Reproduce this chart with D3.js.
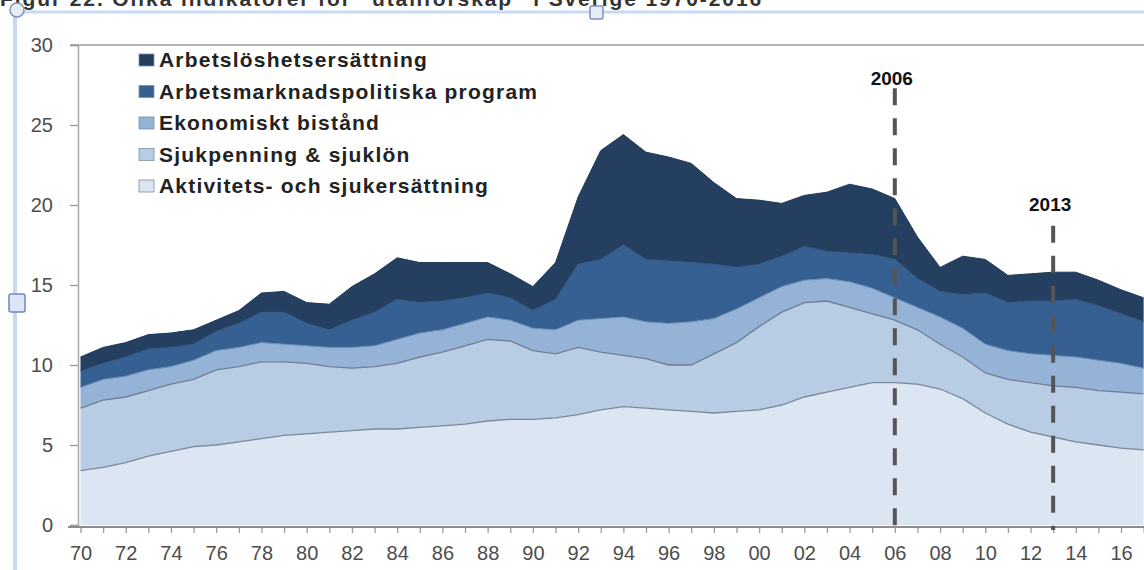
<!DOCTYPE html>
<html>
<head>
<meta charset="utf-8">
<script src="https://cdn.jsdelivr.net/npm/d3@7"></script>
<style>
  body { margin: 0; background: #fff; }
  svg { display: block; }
</style>
</head>
<body>
<div id="chart"></div>
<script>
// Years on the x axis (data runs a little past the last label)
const years = d3.range(1970, 2018);

// Andel av befolkningen, procent (stacked from bottom to top)
const aktivitets = [3.4,3.6,3.9,4.3,4.6,4.9,5.0,5.2,5.4,5.6,5.7,5.8,5.9,6.0,6.0,6.1,6.2,6.3,6.5,6.6,6.6,6.7,6.9,7.2,7.4,7.3,7.2,7.1,7.0,7.1,7.2,7.5,8.0,8.3,8.6,8.9,8.9,8.8,8.5,7.9,7.0,6.3,5.8,5.5,5.2,5.0,4.8,4.7];
const sjukpenning = [3.9,4.2,4.1,4.1,4.2,4.2,4.7,4.7,4.8,4.6,4.4,4.1,3.9,3.9,4.1,4.4,4.6,4.9,5.1,4.9,4.3,4.0,4.2,3.6,3.2,3.1,2.8,2.9,3.7,4.3,5.2,5.8,5.9,5.7,5.0,4.3,3.9,3.4,2.8,2.6,2.5,2.8,3.1,3.2,3.4,3.4,3.5,3.5];
const ekonomiskt = [1.3,1.3,1.3,1.3,1.1,1.2,1.2,1.2,1.2,1.1,1.1,1.2,1.3,1.3,1.5,1.5,1.4,1.4,1.4,1.3,1.4,1.5,1.7,2.1,2.4,2.3,2.6,2.7,2.2,2.1,1.8,1.6,1.4,1.4,1.6,1.6,1.4,1.4,1.7,1.8,1.8,1.8,1.8,1.9,1.9,1.9,1.8,1.6];
const arbetsmarknad = [1.0,1.0,1.2,1.3,1.2,1.0,1.2,1.5,1.9,2.0,1.4,1.1,1.7,2.1,2.5,1.9,1.8,1.6,1.5,1.4,1.1,1.9,3.5,3.7,4.5,3.9,3.9,3.7,3.4,2.6,2.1,1.9,2.1,1.7,1.8,2.1,2.4,1.8,1.6,2.1,3.2,3.0,3.3,3.4,3.6,3.4,3.1,2.9];
const arbetsloshet = [0.9,1.0,0.9,0.9,0.9,0.9,0.7,0.8,1.2,1.3,1.3,1.6,2.1,2.4,2.6,2.5,2.4,2.2,1.9,1.5,1.5,2.3,4.2,6.8,6.9,6.7,6.5,6.2,5.1,4.3,4.0,3.3,3.2,3.7,4.3,4.1,3.8,2.6,1.5,2.4,2.1,1.7,1.7,1.8,1.7,1.6,1.5,1.5];

const keys = ["akt", "sjuk", "ekon", "amp", "arb"];
const seriesNames = ["Aktivitets- och sjukersättning", "Sjukpenning & sjuklön", "Ekonomiskt bistånd", "Arbetsmarknadspolitiska program", "Arbetslöshetsersättning"];
const colors = ["#dce6f2", "#b8cce4", "#95b3d7", "#376092", "#243f60"];
const edgeColors = ["#7b899b", "#6f7f93", "#6a8cb3", "#2f5582", "#1f3856"];

const yTicks = [0, 5, 10, 15, 20, 25, 30];
const xLabelYears = d3.range(1970, 2017, 2);
const markerYears = [2006, 2013];
const markerLabels = ["2006", "2013"];

const title = "Figur 22. Olika indikatorer för ”utanförskap” i Sverige 1970-2016";

const width = 1144, height = 570;
const font = "'Liberation Sans', Arial, sans-serif";

const svg = d3.select("#chart").append("svg")
  .attr("width", width)
  .attr("height", height);

// table for d3.stack
const table = years.map((yr, i) => ({
  year: yr,
  akt: aktivitets[i],
  sjuk: sjukpenning[i],
  ekon: ekonomiskt[i],
  amp: arbetsmarknad[i],
  arb: arbetsloshet[i]
}));

const x = d3.scaleLinear().domain([1970, 2017]).range([80.5, 80.5 + 47 * 22.62]);
const y = d3.scaleLinear().domain([0, 30]).range([525, 45]);

const stacked = d3.stack().keys(keys)(table);

// cropped caption + editor frame at the top
svg.append("text")
  .attr("x", 0).attr("y", 6)
  .attr("font-family", font).attr("font-weight", "bold")
  .attr("font-size", 21).attr("fill", "#333")
  .attr("letter-spacing", 1.9)
  .text(title);

svg.append("line").attr("x1", 18).attr("x2", width).attr("y1", 12).attr("y2", 12)
  .attr("stroke", "#c6daf2").attr("stroke-width", 3);
svg.append("line").attr("x1", 15).attr("x2", 15).attr("y1", 12).attr("y2", height)
  .attr("stroke", "#c6daf2").attr("stroke-width", 4);
svg.append("circle").attr("cx", 17).attr("cy", 10).attr("r", 7)
  .attr("fill", "#e8eef8").attr("stroke", "#7c93c0").attr("stroke-width", 1.5);
svg.append("rect").attr("x", 590).attr("y", 6).attr("width", 13).attr("height", 13).attr("rx", 2)
  .attr("fill", "#e8eef8").attr("stroke", "#7c93c0").attr("stroke-width", 1.5);
svg.append("rect").attr("x", 9).attr("y", 294).attr("width", 16).attr("height", 18).attr("rx", 2)
  .attr("fill", "#dce6f5").attr("stroke", "#6f89bd").attr("stroke-width", 1.5);

// stacked areas
const area = d3.area()
  .x(d => x(d.data.year))
  .y0(d => y(d[0]))
  .y1(d => y(d[1]));

const topLine = d3.line()
  .x(d => x(d.data.year))
  .y(d => y(d[1]));

svg.append("g").selectAll("path")
  .data(stacked)
  .enter().append("path")
  .attr("d", area)
  .attr("fill", (d, i) => colors[i]);

svg.append("g").selectAll("path")
  .data(stacked)
  .enter().append("path")
  .attr("d", topLine)
  .attr("fill", "none")
  .attr("stroke", (d, i) => edgeColors[i])
  .attr("stroke-width", (d, i) => i < 2 ? 1.3 : 1);

// top border of plot
svg.append("line")
  .attr("x1", 70).attr("x2", width)
  .attr("y1", y(30)).attr("y2", y(30))
  .attr("stroke", "#9a9a9a").attr("stroke-width", 1.5);

// y axis
const yAxis = svg.append("g")
  .attr("transform", "translate(78,0)")
  .call(d3.axisLeft(y).tickValues(yTicks).tickSize(8).tickPadding(17));
yAxis.select(".domain").attr("stroke", "#a8a8a8").attr("stroke-width", 1.5);
yAxis.selectAll(".tick line").attr("stroke", "#9a9a9a").attr("stroke-width", 1.3);
yAxis.selectAll(".tick text")
  .attr("font-family", font).attr("font-size", 20).attr("fill", "#4d4d4d");

// x axis
const xAxis = svg.append("g")
  .attr("transform", `translate(0,${y(0) + 2})`)
  .call(d3.axisBottom(x)
    .tickValues(years)
    .tickSize(6)
    .tickPadding(13)
    .tickFormat(d => xLabelYears.includes(d) ? String(d % 100).padStart(2, "0") : ""));
xAxis.select(".domain").remove();
xAxis.selectAll(".tick line").attr("stroke", "#9a9a9a").attr("stroke-width", 1.3);
xAxis.selectAll(".tick text")
  .attr("font-family", font).attr("font-size", 20).attr("fill", "#4d4d4d");
svg.append("line")
  .attr("x1", 68).attr("x2", width)
  .attr("y1", y(0) + 2).attr("y2", y(0) + 2)
  .attr("stroke", "#8c8c8c").attr("stroke-width", 2);

// policy markers
const markerTop = [27.3, 18.7];
const labelBase = [27.5, 19.6];
svg.append("g").selectAll("line")
  .data(markerYears)
  .enter().append("line")
  .attr("x1", d => x(d)).attr("x2", d => x(d))
  .attr("y1", (d, i) => y(markerTop[i]))
  .attr("y2", y(0) + 5)
  .attr("stroke", "#555")
  .attr("stroke-width", 4)
  .attr("stroke-dasharray", "17 13");

svg.append("g").selectAll("text")
  .data(markerYears)
  .enter().append("text")
  .attr("x", d => x(d) - 3)
  .attr("y", (d, i) => y(labelBase[i]))
  .attr("text-anchor", "middle")
  .attr("font-family", font).attr("font-weight", "bold")
  .attr("font-size", 19).attr("fill", "#111")
  .text((d, i) => markerLabels[i]);

// legend (top series first)
const legendOrder = [4, 3, 2, 1, 0];
const legend = svg.append("g").attr("transform", "translate(139,60)");
const rows = legend.selectAll("g")
  .data(legendOrder)
  .enter().append("g")
  .attr("transform", (d, i) => `translate(0,${i * 31.5})`);
rows.append("rect")
  .attr("x", 0).attr("y", -6).attr("width", 15).attr("height", 12)
  .attr("fill", d => colors[d])
  .attr("stroke", "#7f8fa3").attr("stroke-width", 0.8);
rows.append("text")
  .attr("x", 20).attr("y", 7)
  .attr("font-family", font).attr("font-weight", "bold")
  .attr("font-size", 21).attr("letter-spacing", 1.2)
  .attr("fill", "#222")
  .text(d => seriesNames[d]);
</script>
</body>
</html>
